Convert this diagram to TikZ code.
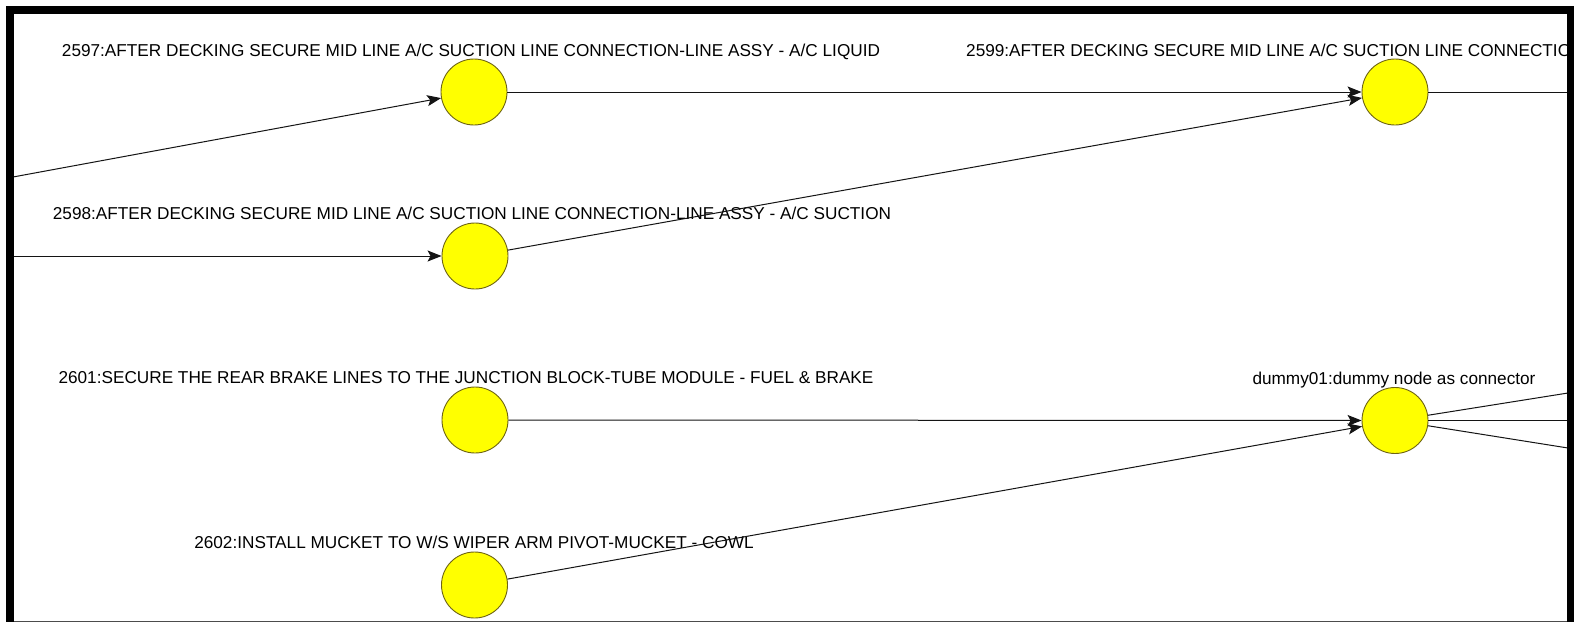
\documentclass[tikz,border=0pt]{standalone}
\usepackage{fontspec}
\setmainfont{Liberation Sans}
\usetikzlibrary{arrows.meta}
\definecolor{nodefill}{RGB}{255,255,0}
\definecolor{nodeedge}{RGB}{110,100,20}
\definecolor{edgecol}{RGB}{20,20,20}
\tikzset{
  task/.style={circle, minimum size=66pt, inner sep=0pt, fill=nodefill, draw=nodeedge, line width=0.9pt},
  tasklabel/.style={anchor=base, inner sep=0pt, font=\fontsize{17.2}{19}\selectfont},
  flow/.style={draw=edgecol, line width=1pt, -{Stealth[length=14pt,width=11pt,inset=3pt]}},
  link/.style={draw=edgecol, line width=1pt},
}
\begin{document}
\begin{tikzpicture}[x=1pt,y=-1pt]
\useasboundingbox (0,0) rectangle (1580,622);
\fill[white] (0,0) rectangle (1580,622);

\begin{scope}
\clip (14,14) rectangle (1567,621);

% task nodes
\node[task] (n2597) at (474,92) {};
\node[task] (n2599) at (1395,92) {};
\node[task] (n2598) at (475,256) {};
\node[task] (n2601) at (475,420) {};
\node[task] (dummy) at (1395,420.5) {};
\node[task] (n2602) at (474.5,585) {};

% node labels
\node[tasklabel] (l2597) at (471,56) {2597:AFTER DECKING SECURE MID LINE A/C SUCTION LINE CONNECTION-LINE ASSY - A/C LIQUID};
\node[tasklabel, anchor=base west] (l2599) at (966,56) {2599:AFTER DECKING SECURE MID LINE A/C SUCTION LINE CONNECTION};
\node[tasklabel] (l2598) at (472,219) {2598:AFTER DECKING SECURE MID LINE A/C SUCTION LINE CONNECTION-LINE ASSY - A/C SUCTION};
\node[tasklabel] (l2601) at (466,383) {2601:SECURE THE REAR BRAKE LINES TO THE JUNCTION BLOCK-TUBE MODULE - FUEL \& BRAKE};
\node[tasklabel] (ldummy) at (1394,384) {dummy01:dummy node as connector};
\node[tasklabel] (l2602) at (474,548) {2602:INSTALL MUCKET TO W/S WIPER ARM PIVOT-MUCKET - COWL};

% connector ends beyond the frame
\coordinate (inA) at (13,177);
\coordinate (inB) at (13,256);
\coordinate (outA) at (1568,92);
\coordinate (outB) at (1568,393);
\coordinate (outC) at (1568,420.5);
\coordinate (outD) at (1568,448);

% connectors
\draw[flow] (inA) -- (n2597);
\draw[flow] (inB) -- (n2598);
\draw[flow] (n2597) -- (n2599);
\draw[flow] (n2598) -- (n2599);
\draw[link] (n2599) -- (outA);
\draw[flow] (n2601) -- (dummy);
\draw[flow] (n2602) -- (dummy);
\draw[link] (dummy) -- (outB);
\draw[link] (dummy) -- (outC);
\draw[link] (dummy) -- (outD);
\end{scope}

% frame
\fill[black] (6,6) rectangle (1574,14);
\fill[black] (6,6) rectangle (14,622);
\fill[black] (1567,6) rectangle (1574,622);
\draw[black!70, line width=1pt] (14,621) -- (1567,621);
\end{tikzpicture}
\end{document}
